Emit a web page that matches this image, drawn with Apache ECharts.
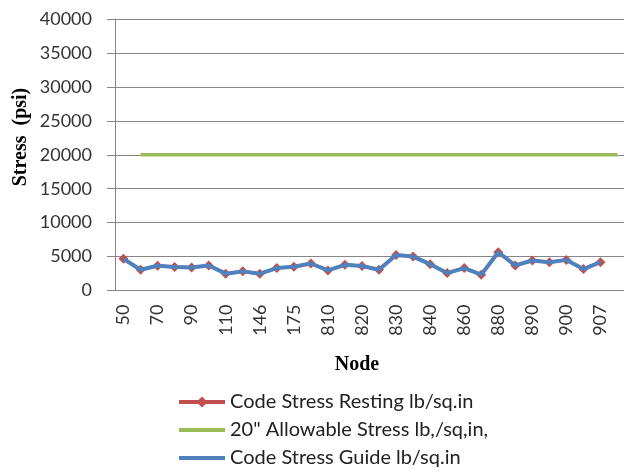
<!DOCTYPE html>
<html>
<head>
<meta charset="utf-8">
<script src="https://cdn.jsdelivr.net/npm/echarts@6/dist/echarts.min.js"></script>
<style>
html,body{margin:0;padding:0;background:#fff;overflow:hidden;}
#chart{width:624px;height:468px;}
</style>
</head>
<body>
<div id="chart"></div>
<script>
const nodes = ['50','60','70','80','90','100','110','120','146','150','175','180','810','815','820','825','830','835','840','850','860','870','880','885','890','895','900','905','907','910'];
const restingStress = [4660,3060,3640,3450,3400,3690,2480,2820,2480,3300,3500,3980,2960,3790,3620,3060,5240,5000,3880,2570,3300,2330,5630,3690,4420,4170,4510,3160,4170,null];
const allowableStress = [null,20000,20000,20000,20000,20000,20000,20000,20000,20000,20000,20000,20000,20000,20000,20000,20000,20000,20000,20000,20000,20000,20000,20000,20000,20000,20000,20000,20000,20000];
const guideStress = [4660,3060,3640,3450,3400,3690,2480,2820,2480,3300,3500,3980,2960,3790,3620,3060,5240,5000,3880,2570,3300,2330,5630,3690,4420,4170,4510,3160,4170,null];
const seriesNames = ['Code Stress Resting lb/sq.in', '20" Allowable Stress lb,/sq,in,', 'Code Stress Guide lb/sq.in'];

const chart = echarts.init(document.getElementById('chart'));
const font = 'Lato, "Open Sans", sans-serif';
chart.setOption({
  animation: false,
  grid: {left: 115, top: 19, right: -2, bottom: 177.5, containLabel: false, outerBoundsMode: 'none'},
  legend: {
    orient: 'vertical', left: 177, top: 392, height: 100, padding: 0,
    itemWidth: 46, itemHeight: 14, itemGap: 8,
    lineStyle: {width: 4},
    textStyle: {fontFamily: font, fontSize: 20, color: '#222', lineHeight: 20},
    data: [
      {name: seriesNames[0]},
      {name: seriesNames[1], itemStyle: {opacity: 0}},
      {name: seriesNames[2], itemStyle: {opacity: 0}}
    ]
  },
  xAxis: {
    type: 'category', data: nodes, boundaryGap: true,
    axisLine: {lineStyle: {color: '#868686', width: 1}},
    axisTick: {interval: 0, length: 7, lineStyle: {color: '#868686'}},
    axisLabel: {interval: 1, rotate: 90, margin: 14, fontFamily: font, fontSize: 18, color: '#333'},
    splitLine: {show: false}
  },
  yAxis: {
    type: 'value', min: 0, max: 40000, interval: 5000,
    axisLine: {show: true, lineStyle: {color: '#868686', width: 1}},
    axisTick: {show: true, length: 8, lineStyle: {color: '#868686'}},
    axisLabel: {margin: 23, fontFamily: font, fontSize: 18, color: '#333', formatter: v => String(v)},
    splitLine: {lineStyle: {color: '#868686', width: 1}}
  },
  graphic: [
    {type: 'text', x: 21, y: 137, rotation: Math.PI/2, style: {text: 'Stress  (psi)', fontFamily: '"Liberation Serif", "DejaVu Serif", serif', fontWeight: 'bold', fontSize: 20, fill: '#000', align: 'center', verticalAlign: 'middle'}},
    {type: 'text', x: 357, y: 365, style: {text: 'Node', fontFamily: '"Liberation Serif", "DejaVu Serif", serif', fontWeight: 'bold', fontSize: 20, fill: '#000', align: 'center', verticalAlign: 'middle'}}
  ],
  series: [
    {name: seriesNames[0], type: 'line', data: restingStress, symbol: 'diamond', symbolSize: 10, showSymbol: true,
     itemStyle: {color: '#C0504D'}, lineStyle: {color: '#C0504D', width: 3}, z: 2},
    {name: seriesNames[1], type: 'line', data: allowableStress, symbol: 'none',
     itemStyle: {color: '#9BBB59'}, lineStyle: {color: '#9BBB59', width: 3.5}, z: 3},
    {name: seriesNames[2], type: 'line', data: guideStress, symbol: 'none',
     itemStyle: {color: '#4F81BD'}, lineStyle: {color: '#4F81BD', width: 4}, z: 4}
  ]
});
</script>
</body>
</html>
